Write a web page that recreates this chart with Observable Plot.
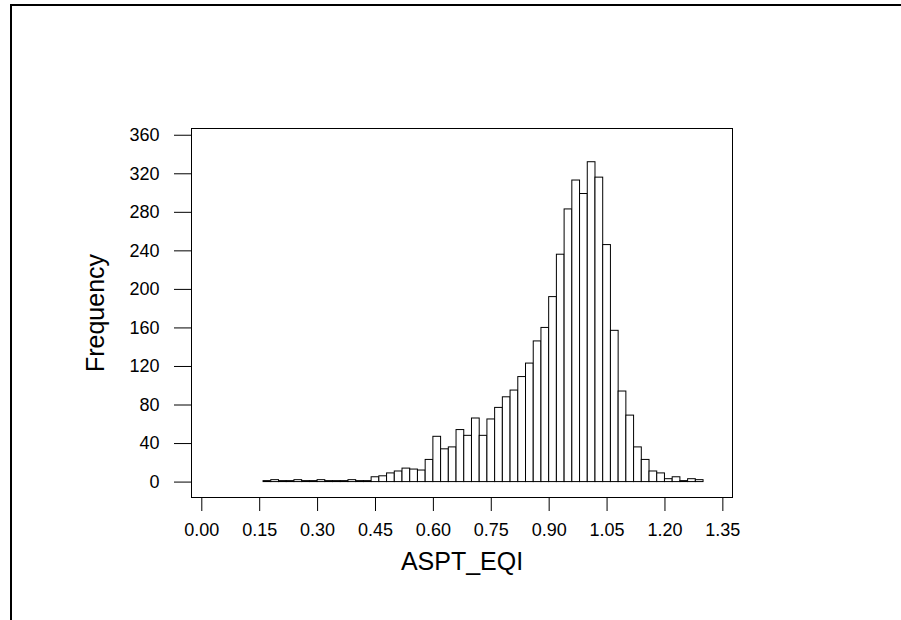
<!DOCTYPE html>
<html>
<head>
<meta charset="utf-8">
<script src="https://cdn.jsdelivr.net/npm/d3@7"></script>
<script src="https://cdn.jsdelivr.net/npm/@observablehq/plot@0.6"></script>
<style>
  html, body { margin: 0; padding: 0; background: #fff; }
  #wrap { position: relative; width: 901px; height: 620px; overflow: hidden; }
  #border { position: absolute; left: 10px; top: 4px; width: 950px; height: 700px;
            border-left: 2px solid #000; border-top: 2px solid #000; box-sizing: border-box; }
  #chart { position: absolute; left: 0; top: 0; }
</style>
</head>
<body>
<div id="wrap"><div id="border"></div><div id="chart"></div></div>
<script>
// Histogram bins (lower edges), width 0.02
const binLo = [0.16,0.18,0.20,0.22,0.24,0.26,0.28,0.30,0.32,0.34,0.36,0.38,0.40,0.42,0.44,0.46,0.48,0.50,0.52,0.54,
               0.56,0.58,0.60,0.62,0.64,0.66,0.68,0.70,0.72,0.74,0.76,0.78,0.80,0.82,0.84,0.86,0.88,0.90,0.92,0.94,
               0.96,0.98,1.00,1.02,1.04,1.06,1.08,1.10,1.12,1.14,1.16,1.18,1.20,1.22,1.24,1.26,1.28];
const binWidth = 0.02;
const counts = [1,2,1,1,2,1,1,2,1,1,1,2,1,1,5,6,9,11,14,13,
                12,23,47,34,36,54,48,66,48,65,77,88,95,109,123,146,160,192,236,283,
                313,299,332,316,246,157,94,69,36,23,11,9,3,5,1,3,2];
const xTicks = [0.00,0.15,0.30,0.45,0.60,0.75,0.90,1.05,1.20,1.35];
const yTicks = [0,40,80,120,160,200,240,280,320,360];
const xTitle = "ASPT_EQI";
const yTitle = "Frequency";

const data = binLo.map((lo, i) => ({x1: lo, x2: lo + binWidth, y: counts[i]}));

const chart = Plot.plot({
  width: 901,
  height: 620,
  marginLeft: 191,
  marginRight: 169,
  marginTop: 128,
  marginBottom: 123,
  style: {fontFamily: "Arial, 'Liberation Sans', sans-serif", fontSize: "18px", color: "#000", background: "transparent"},
  x: {domain: [-0.0267, 1.375], ticks: xTicks, tickFormat: d3.format(".2f"), tickSize: 14, tickPadding: 12, label: null},
  y: {domain: [-16, 367], ticks: yTicks, tickSize: 17, tickPadding: 15, label: null},
  marks: [
    Plot.rectY(data, {x1: "x1", x2: "x2", y: "y", fill: "white", stroke: "black", strokeWidth: 1}),
    Plot.frame({stroke: "black", strokeWidth: 1}),
    Plot.text([xTitle], {text: d => d, frameAnchor: "bottom", dy: 64, fontSize: 25, textAnchor: "middle", lineAnchor: "middle"}),
    Plot.text([yTitle], {text: d => d, frameAnchor: "left", dx: -96, rotate: -90, fontSize: 25, textAnchor: "middle", lineAnchor: "middle"})
  ]
});
document.getElementById("chart").appendChild(chart);
</script>
</body>
</html>
